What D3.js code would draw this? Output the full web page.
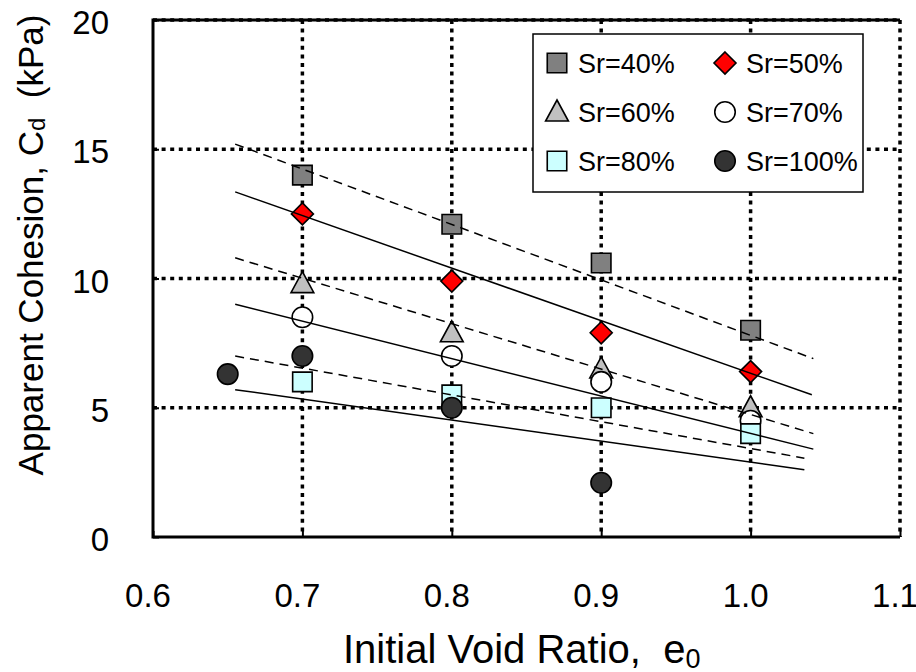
<!DOCTYPE html>
<html lang="en">
<head>
<meta charset="utf-8">
<script src="https://cdn.jsdelivr.net/npm/d3@7"></script>
<style>
  body { margin: 0; background: #fff; }
  text { font-family: "Liberation Sans", Arial, sans-serif; fill: #000; }
</style>
</head>
<body>
<div id="chart"></div>
<script>
// data
var voidRatio = [0.7, 0.8, 0.9, 1.0];
var sr40 = [14.0, 12.1, 10.6, 8.0];
var sr50 = [12.5, 9.9, 7.9, 6.4];
var sr60 = [9.8, 7.9, 6.5, 5.0];
var sr70 = [8.5, 7.0, 6.0, 4.5];
var sr80 = [6.0, 5.5, 5.0, 4.0];
var sr100X = [0.65, 0.7, 0.8, 0.9];
var sr100 = [6.3, 7.0, 5.0, 2.1];
var seriesNames = ["Sr=40%", "Sr=50%", "Sr=60%", "Sr=70%", "Sr=80%", "Sr=100%"];

// trend lines (start / end), one per series
var fitX0 = [0.655, 0.655, 0.655, 0.655, 0.655, 0.655];
var fitY0 = [15.2, 13.35, 10.8, 9.0, 7.0, 5.7];
var fitX1 = [1.042, 1.041, 1.042, 1.042, 1.036, 1.036];
var fitY1 = [6.9, 5.5, 4.0, 3.4, 3.05, 2.6];

var xTicks = [0.6, 0.7, 0.8, 0.9, 1.0, 1.1];
var xTickLabels = ["0.6", "0.7", "0.8", "0.9", "1.0", "1.1"];
var yTicks = [0, 5, 10, 15, 20];

var width = 916,
    height = 672,
    pLeft = 153, pRight = 900, pTop = 20, pBottom = 537;

var x = d3.scaleLinear().domain([0.6, 1.1]).range([pLeft, pRight]);
var y = d3.scaleLinear().domain([0, 20]).range([pBottom, pTop]);

var svg = d3.select("#chart").append("svg")
    .attr("width", width)
    .attr("height", height);

// dotted grid
svg.append("g").selectAll("line")
    .data(yTicks.filter(function(d) { return d > 0; }))
    .enter().append("line")
    .attr("x1", pLeft).attr("x2", pRight)
    .attr("y1", function(d) { return y(d); })
    .attr("y2", function(d) { return y(d); })
    .attr("stroke", "#000").attr("stroke-width", 3.5)
    .attr("stroke-dasharray", "4,4.6");

svg.append("g").selectAll("line")
    .data(xTicks.filter(function(d) { return d > 0.65; }))
    .enter().append("line")
    .attr("y1", pTop).attr("y2", pBottom)
    .attr("x1", function(d) { return x(d); })
    .attr("x2", function(d) { return x(d); })
    .attr("stroke", "#000").attr("stroke-width", 3.5)
    .attr("stroke-dasharray", "4,4.6");

// frame
svg.append("path")
    .attr("d", "M" + pRight + "," + pTop + "H" + pLeft + "V" + pBottom + "H" + pRight)
    .attr("fill", "none").attr("stroke", "#000").attr("stroke-width", 3);

// inner ticks
var yAxis = d3.axisLeft(y).tickValues(yTicks).tickSize(-6).tickFormat("");
svg.append("g").attr("transform", "translate(" + pLeft + ",0)").call(yAxis)
    .call(function(g) { g.select(".domain").remove(); g.selectAll("line").attr("stroke-width", 2); });
var xAxis = d3.axisBottom(x).tickValues(xTicks).tickSize(-6).tickFormat("");
svg.append("g").attr("transform", "translate(0," + pBottom + ")").call(xAxis)
    .call(function(g) { g.select(".domain").remove(); g.selectAll("line").attr("stroke-width", 2); });

// tick labels
svg.append("g").selectAll("text")
    .data(yTicks)
    .enter().append("text")
    .attr("x", 109)
    .attr("y", function(d) { return y(d) + 14; })
    .attr("text-anchor", "end")
    .style("font-size", "33px")
    .text(function(d) { return d; });

svg.append("g").selectAll("text")
    .data(xTicks)
    .enter().append("text")
    .attr("x", function(d) { return x(d) - 5; })
    .attr("y", 607)
    .attr("text-anchor", "middle")
    .style("font-size", "33px")
    .text(function(d, i) { return xTickLabels[i]; });

// axis titles
var xt = svg.append("text")
    .attr("x", 343).attr("y", 663)
    .style("font-size", "40px");
xt.append("tspan").text("Initial Void Ratio,\u00a0\u00a0e");
xt.append("tspan").attr("dy", 5).style("font-size", "27px").text("0");

var yt = svg.append("text")
    .attr("transform", "translate(43,245) rotate(-90)")
    .attr("text-anchor", "middle")
    .style("font-size", "35px");
yt.append("tspan").text("Apparent Cohesion, C");
yt.append("tspan").attr("dy", 2).style("font-size", "24px").text("d");
yt.append("tspan").attr("dy", -2).text("\u00a0\u00a0(kPa)");

// markers
var squareSym = d3.symbol().type(d3.symbolSquare).size(380);
var diamondSym = function(s) {
    return "M0," + (-s) + "L" + s + ",0L0," + s + "L" + (-s) + ",0Z";
};
var triSym = function(s) {
    return "M0," + (-s) + "L" + (s * 0.95) + "," + (s * 0.75) + "L" + (-s * 0.95) + "," + (s * 0.75) + "Z";
};

var styles = [
    { shape: "square", fill: "#808080" },
    { shape: "diamond", fill: "#ff0000" },
    { shape: "triangle", fill: "#c0c0c0" },
    { shape: "circle", fill: "#ffffff" },
    { shape: "square", fill: "#ccffff" },
    { shape: "circle", fill: "#333333" }
];

function markerPath(shape) {
    if (shape === "square") return squareSym();
    if (shape === "diamond") return diamondSym(11);
    if (shape === "triangle") return triSym(12);
    return d3.symbol().type(d3.symbolCircle).size(330)();
}

var seriesX = [voidRatio, voidRatio, voidRatio, voidRatio, voidRatio, sr100X];
var seriesY = [sr40, sr50, sr60, sr70, sr80, sr100];

seriesY.forEach(function(vals, si) {
    var pts = vals.map(function(v, i) { return [seriesX[si][i], v]; });
    svg.append("g").selectAll("path")
        .data(pts)
        .enter().append("path")
        .attr("transform", function(d) { return "translate(" + x(d[0]) + "," + y(d[1]) + ")"; })
        .attr("d", markerPath(styles[si].shape))
        .attr("fill", styles[si].fill)
        .attr("stroke", "#000")
        .attr("stroke-width", 1.6);
});

// trend lines
svg.append("g").selectAll("line")
    .data(fitY0)
    .enter().append("line")
    .attr("x1", function(d, i) { return x(fitX0[i]); })
    .attr("y1", function(d, i) { return y(fitY0[i]); })
    .attr("x2", function(d, i) { return x(fitX1[i]); })
    .attr("y2", function(d, i) { return y(fitY1[i]); })
    .attr("stroke", "#000")
    .attr("stroke-width", 1.5)
    .attr("stroke-dasharray", function(d, i) { return i % 2 === 0 ? "9,6" : null; });

// legend
var lg = svg.append("g");
lg.append("rect")
    .attr("x", 533).attr("y", 34).attr("width", 330).attr("height", 158)
    .attr("fill", "#fff").attr("stroke", "#000").attr("stroke-width", 1.5);

var legX = [557, 725], legY = [63, 112, 161];
seriesNames.forEach(function(name, i) {
    var cx = legX[i % 2], cy = legY[Math.floor(i / 2)];
    lg.append("path")
        .attr("transform", "translate(" + cx + "," + cy + ")")
        .attr("d", markerPath(styles[i].shape))
        .attr("fill", styles[i].fill)
        .attr("stroke", "#000")
        .attr("stroke-width", 1.6);
    lg.append("text")
        .attr("x", cx + 21)
        .attr("y", cy + 10)
        .style("font-size", "27px")
        .text(name);
});
</script>
</body>
</html>
